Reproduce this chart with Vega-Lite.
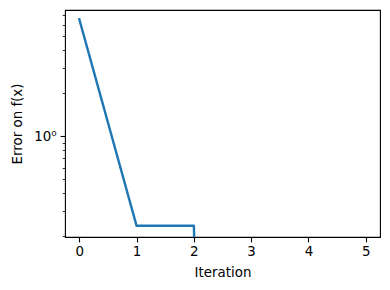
{
  "$schema": "https://vega.github.io/schema/vega-lite/v6.json",
  "width": 315,
  "height": 227,
  "autosize": {"type": "none"},
  "padding": {"left": 65, "top": 10, "right": 10, "bottom": 53},
  "config": {
    "view": {"stroke": "#000000", "strokeWidth": 1.1},
    "font": "DejaVu Sans",
    "axis": {
      "grid": false,
      "domain": false,
      "tickColor": "#000000",
      "tickWidth": 1.1,
      "labelColor": "#000000",
      "titleColor": "#000000",
      "labelFont": "DejaVu Sans",
      "titleFont": "DejaVu Sans",
      "labelFontSize": 13.4,
      "titleFontSize": 13.4,
      "titleFontWeight": "normal"
    }
  },
  "data": {
    "values": [
      {"iteration": 0, "error": 6.55},
      {"iteration": 1, "error": 0.237},
      {"iteration": 2, "error": 0.237},
      {"iteration": 3, "error": 1e-16},
      {"iteration": 4, "error": 1e-16},
      {"iteration": 5, "error": 1e-16}
    ]
  },
  "mark": {"type": "line", "color": "#1f77b4", "strokeWidth": 2.4, "clip": true, "strokeJoin": "round", "strokeCap": "square"},
  "encoding": {
    "x": {
      "field": "iteration",
      "type": "quantitative",
      "scale": {"domain": [-0.25, 5.25], "nice": false, "zero": false},
      "axis": {
        "title": "Iteration",
        "values": [0, 1, 2, 3, 4, 5],
        "format": "d",
        "tickSize": 4.9,
        "labelPadding": 3,
        "titleX": 157.5,
        "titleY": 35,
        "titleBaseline": "middle",
        "titleAlign": "center"
      }
    },
    "y": {
      "field": "error",
      "type": "quantitative",
      "scale": {"type": "log", "domain": [0.198, 7.6], "nice": false, "zero": false},
      "axis": {
        "title": "Error on f(x)",
        "values": [0.2, 0.3, 0.4, 0.5, 0.6, 0.7, 0.8, 0.9, 1, 2, 3, 4, 5, 6, 7],
        "labelExpr": "datum.value == 1 ? '10⁰' : ''",
        "tickSize": {"condition": {"test": "datum.value == 1", "value": 4.9}, "value": 2.8},
        "tickWidth": {"condition": {"test": "datum.value == 1", "value": 1.1}, "value": 0.8},
        "labelPadding": 4,
        "titleX": -48,
        "titleY": 113.5,
        "titleAngle": -90,
        "titleBaseline": "middle",
        "titleAlign": "center"
      }
    }
  }
}
